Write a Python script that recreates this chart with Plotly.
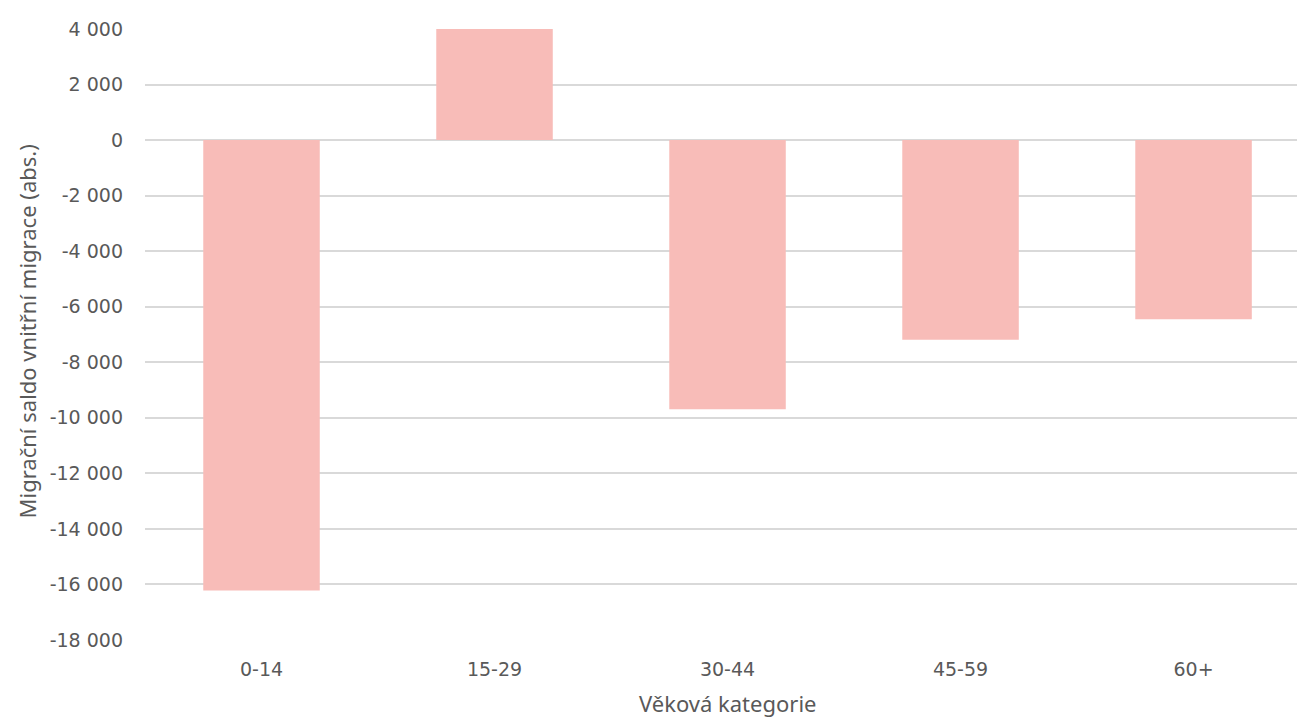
import plotly.graph_objects as go

# Net internal migration by age group
categories = ["0-14", "15-29", "30-44", "45-59", "60+"]
net_migration = [-16220, 4000, -9690, -7190, -6450]

y_ticks = list(range(-18000, 4001, 2000))


def fmt_thousands(v):
    # "-12 000" style: hyphen for negatives, space as thousands separator
    s = f"{abs(v):,}".replace(",", " ")
    return ("-" if v < 0 else "") + s


y_ticktext = [fmt_thousands(v) for v in y_ticks]

BAR_COLOR = "#F8BCB8"
GRID_COLOR = "#D9D9D9"
TEXT_COLOR = "#595959"
TICK_FONT = "DejaVu Sans"
TITLE_FONT = "Noto Sans"

fig = go.Figure(
    go.Bar(
        x=categories,
        y=net_migration,
        marker=dict(color=BAR_COLOR, line=dict(width=0)),
        width=0.5,
    )
)

fig.update_layout(
    width=1297,
    height=720,
    margin=dict(l=145, r=0, t=29, b=80),
    paper_bgcolor="white",
    plot_bgcolor="white",
    showlegend=False,
    font=dict(family=TICK_FONT, size=19, color=TEXT_COLOR),
)

fig.update_xaxes(
    range=[-0.5, 4.444],
    showgrid=False,
    showline=False,
    zeroline=False,
    ticks="",
    ticklabelstandoff=16,
    tickfont=dict(family=TICK_FONT, size=19, color=TEXT_COLOR),
)

fig.update_yaxes(
    range=[-18000, 4000],
    tickvals=y_ticks,
    ticktext=y_ticktext,
    showgrid=True,
    gridcolor=GRID_COLOR,
    gridwidth=2,
    zeroline=True,
    zerolinecolor=GRID_COLOR,
    zerolinewidth=2,
    showline=False,
    ticks="",
    ticklabelstandoff=21,
    tickfont=dict(family=TICK_FONT, size=19, color=TEXT_COLOR),
)

# Axis titles
fig.add_annotation(
    text="Migrační saldo vnitřní migrace (abs.)",
    xref="paper", yref="paper",
    x=(27 - 145) / 1152, y=0.505,
    xanchor="center", yanchor="middle",
    textangle=-90, showarrow=False,
    font=dict(family=TITLE_FONT, size=22, color=TEXT_COLOR),
)
fig.add_annotation(
    text="Věková kategorie",
    xref="x", yref="paper",
    x=2, y=(640 - 703) / 611,
    xanchor="center", yanchor="middle",
    showarrow=False,
    font=dict(family=TITLE_FONT, size=22, color=TEXT_COLOR),
)

fig.write_html("out.html")
